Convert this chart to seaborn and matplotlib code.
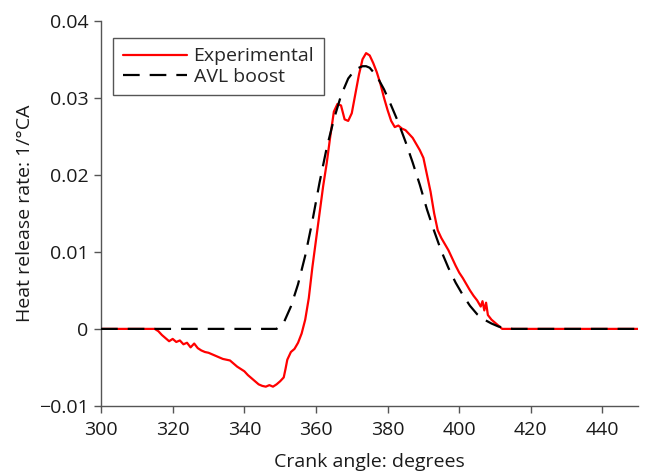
import matplotlib
matplotlib.use("Agg")
import matplotlib.pyplot as plt
import seaborn as sns
import pandas as pd

# Experimental heat release rate
exp_angle = [300, 315, 316, 317, 318, 319, 320, 321, 322, 323, 324, 325, 326, 327, 328, 329,
             330, 332, 334, 336, 338, 340, 341, 342, 343, 344, 345, 346, 347, 348, 349, 350,
             351, 351.5, 352, 353, 354, 355, 356, 357, 358, 359, 360, 361, 362, 363, 364, 365,
             366, 367, 368, 369, 370, 371, 372, 373, 374, 375, 376, 377, 378, 379, 380, 381,
             382, 383, 384, 385, 386, 387, 388, 389, 390, 391, 392, 393, 394, 395, 396, 397,
             398, 399, 400, 401, 402, 403, 404, 405, 406, 406.5, 407, 407.5, 408, 409, 410,
             411, 412, 450]
exp_hrr = [0, 0, -0.0003, -0.0008, -0.0012, -0.0016, -0.0013, -0.0017, -0.0015, -0.0020,
           -0.0018, -0.0024, -0.0019, -0.0025, -0.0028, -0.0030, -0.0031, -0.0035, -0.0039,
           -0.0041, -0.0049, -0.0055, -0.0060, -0.0064, -0.0068, -0.0072, -0.0074, -0.0075,
           -0.0073, -0.0075, -0.0072, -0.0068, -0.0063, -0.0052, -0.0040, -0.0030, -0.0026,
           -0.0018, -0.0006, 0.0012, 0.0040, 0.0080, 0.0115, 0.0150, 0.0185, 0.0215, 0.0250,
           0.0282, 0.0292, 0.0290, 0.0272, 0.0270, 0.0280, 0.0305, 0.0330, 0.0350, 0.0358,
           0.0355, 0.0345, 0.0333, 0.0318, 0.0300, 0.0284, 0.0270, 0.0262, 0.0264, 0.0260,
           0.0258, 0.0253, 0.0248, 0.0240, 0.0232, 0.0222, 0.0200, 0.0178, 0.0150, 0.0128,
           0.0118, 0.0110, 0.0102, 0.0092, 0.0082, 0.0073, 0.0066, 0.0058, 0.0050, 0.0043,
           0.0037, 0.0029, 0.0036, 0.0024, 0.0034, 0.0018, 0.0012, 0.0008, 0.0004, 0.0, 0]

# AVL boost simulation
avl_angle = [300, 345, 349, 351, 353, 355, 357, 359, 361, 363, 365, 367, 369, 371, 373, 374,
             375, 377, 379, 381, 383, 385, 387, 389, 391, 393, 395, 397, 399, 401, 403, 405,
             407, 409, 411, 413, 415, 450]
avl_hrr = [0, 0, 0, 0.0008, 0.0029, 0.0058, 0.0095, 0.0140, 0.0190, 0.0235, 0.0272, 0.0303,
           0.0325, 0.0337, 0.0341, 0.0341, 0.0339, 0.0328, 0.0311, 0.0290, 0.0268, 0.0243,
           0.0216, 0.0187, 0.0155, 0.0127, 0.0101, 0.0079, 0.0060, 0.0044, 0.0030, 0.0019,
           0.0012, 0.0007, 0.0003, 0.0001, 0.0, 0]

x_ticks = [300, 320, 340, 360, 380, 400, 420, 440]
y_ticks = [-0.01, 0, 0.01, 0.02, 0.03, 0.04]
y_tick_labels = ["\u22120.01", "0", "0.01", "0.02", "0.03", "0.04"]

sns.set_style("ticks")
plt.rcParams['font.family'] = ['Open Sans', 'DejaVu Sans']

fig = plt.figure(figsize=(6.52, 4.72), dpi=100)
ax = fig.add_axes([0.155, 0.14, 0.824, 0.816])

df_exp = pd.DataFrame({"angle": exp_angle, "hrr": exp_hrr})
df_avl = pd.DataFrame({"angle": avl_angle, "hrr": avl_hrr})

sns.lineplot(data=df_exp, x="angle", y="hrr", ax=ax, color="#ff0000", lw=1.6,
             label="Experimental", zorder=2)
sns.lineplot(data=df_avl, x="angle", y="hrr", ax=ax, color="black", lw=1.6,
             label="AVL boost", zorder=3)
ax.lines[1].set_dashes((7.5, 4.5))

ax.set_xlim(300, 450)
ax.set_ylim(-0.01, 0.04)
ax.set_xticks(x_ticks)
ax.set_xticklabels([str(t) for t in x_ticks])
ax.set_yticks(y_ticks)
ax.set_yticklabels(y_tick_labels)
ax.tick_params(axis="both", labelsize=14, colors="#555555", labelcolor="#1a1a1a",
               length=5, width=1, direction="out")
ax.tick_params(axis="x", pad=6)
ax.tick_params(axis="y", pad=4)
for s in ["top", "right"]:
    ax.spines[s].set_visible(False)
for s in ["left", "bottom"]:
    ax.spines[s].set_color("#555555")
    ax.spines[s].set_linewidth(1)

ax.set_xlabel("Crank angle: degrees", fontsize=14, color="#1a1a1a", labelpad=10)
ax.set_ylabel("Heat release rate: 1/\u00b0CA", fontsize=14, color="#1a1a1a")
ax.yaxis.set_label_coords(-0.125, 0.5)

leg = ax.legend(loc="upper left", bbox_to_anchor=(0.022, 0.956), bbox_transform=ax.transAxes,
                borderaxespad=0, fontsize=14,
                frameon=True, fancybox=False, edgecolor="#555555", framealpha=1,
                handlelength=3.3, handletextpad=0.35, borderpad=0.5, labelspacing=0.12)
leg.get_frame().set_linewidth(1)
leg.get_lines()[1].set_dashes((7.5, 4.5))

fig.savefig("out.png", dpi=100)
